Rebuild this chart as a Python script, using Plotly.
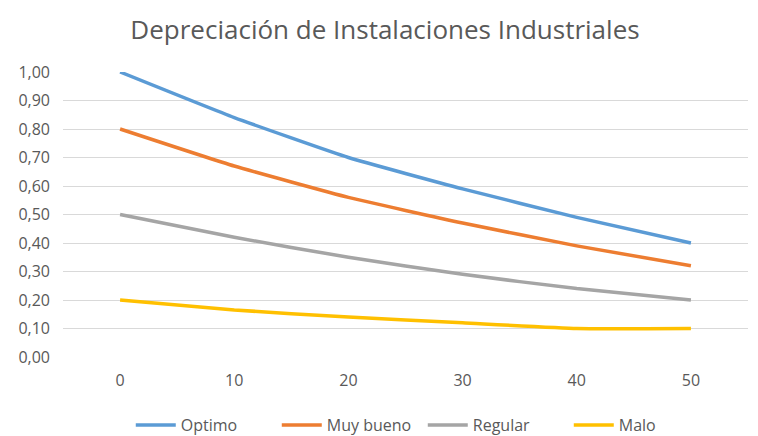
import plotly.graph_objects as go

years = [0, 10, 20, 30, 40, 50]
optimo = [1.00, 0.84, 0.70, 0.59, 0.49, 0.40]
muy_bueno = [0.80, 0.67, 0.56, 0.47, 0.39, 0.32]
regular = [0.50, 0.42, 0.35, 0.29, 0.24, 0.20]
malo = [0.20, 0.165, 0.14, 0.12, 0.10, 0.10]

series = [
    ("Optimo", optimo, "#5B9BD5"),
    ("Muy bueno", muy_bueno, "#ED7D31"),
    ("Regular", regular, "#A5A5A5"),
    ("Malo", malo, "#FFC000"),
]

fig = go.Figure()
for name, vals, color in series:
    fig.add_trace(go.Scatter(
        x=years, y=vals, name=name, mode="lines",
        line=dict(color=color, width=3.5, shape="spline", smoothing=0.4),
    ))

# the page body has an 8px default margin, so positions are offset by 8px
fig.update_layout(
    width=758, height=436,
    paper_bgcolor="white", plot_bgcolor="white",
    separators=",.",
    margin=dict(l=55, r=18, t=64, b=87, autoexpand=False),
    title=dict(text="Depreciación de Instalaciones Industriales",
               x=(385 - 8) / 758, xanchor="center", y=1 - 22 / 436, yanchor="middle",
               font=dict(family="Open Sans", size=26, color="#595959")),
    font=dict(family="Open Sans", size=16, color="#595959"),
    xaxis=dict(range=[-5, 55], tickvals=years, showgrid=False, zeroline=False,
               showline=False, ticks="", ticklabelstandoff=12,
               tickfont=dict(size=16, color="#595959")),
    yaxis=dict(range=[0, 1.0], dtick=0.1, tickformat=".2f", showgrid=True,
               gridcolor="#D9D9D9", gridwidth=1.3, zeroline=False, showline=False,
               ticks="", ticklabelstandoff=12,
               tickfont=dict(size=16, color="#595959")),
    legend=dict(orientation="h", x=75 / 758, xanchor="left",
                yref="container", y=1 - 417 / 436, yanchor="middle",
                font=dict(size=16, color="#595959"), itemwidth=40,
                entrywidth=91, entrywidthmode="pixels"),
    showlegend=True,
)
fig.write_html("out.html")
